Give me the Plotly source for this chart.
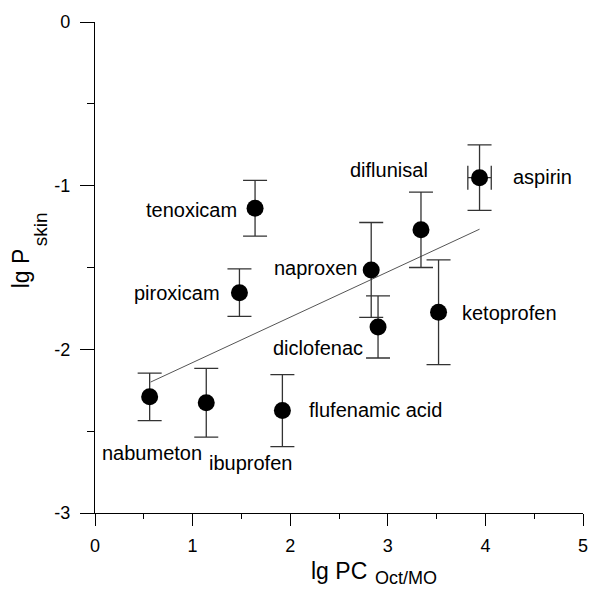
import plotly.graph_objects as go

# ---- data ----
drugs = ["nabumeton", "ibuprofen", "flufenamic acid", "diclofenac", "ketoprofen",
         "naproxen", "diflunisal", "aspirin", "tenoxicam", "piroxicam"]
lg_pc = [0.56, 1.14, 1.92, 2.90, 3.52, 2.83, 3.34, 3.94, 1.64, 1.48]
lg_p = [-2.29, -2.326, -2.374, -1.863, -1.773, -1.515, -1.27, -0.951, -1.138, -1.654]
err_p = [0.145, 0.21, 0.22, 0.19, 0.32, 0.29, 0.23, 0.20, 0.17, 0.145]

aspirin_x = [3.94]
aspirin_y = [-0.951]
aspirin_xerr = [0.12]

fit_x = [0.57, 3.94]
fit_y = [-2.20, -1.266]

# label anchor positions (data coords) and alignment
label_x = [0.586, 1.59, 2.17, 2.28, 3.735, 2.70, 3.01, 4.26, 1.48, 1.30]
label_y = [-2.631, -2.696, -2.37, -1.993, -1.78, -1.503, -0.904, -0.945, -1.146, -1.655]
label_anchor = ["center", "center", "left", "center", "left", "right", "center", "left", "right", "right"]

x_ticks = [0, 1, 2, 3, 4, 5]
y_ticks = [0, -1, -2, -3]

FONT = "Liberation Sans, Arial, Helvetica, sans-serif"

fig = go.Figure()

fig.add_trace(go.Scatter(
    x=fit_x, y=fit_y, mode="lines",
    line=dict(color="#555555", width=1),
    showlegend=False, hoverinfo="skip"))

fig.add_trace(go.Scatter(
    x=aspirin_x, y=aspirin_y, mode="markers",
    marker=dict(size=1, color="rgba(0,0,0,0)"),
    error_x=dict(type="data", array=aspirin_xerr, visible=True,
                 color="#333333", thickness=1.3, width=12),
    showlegend=False, hoverinfo="skip"))

fig.add_trace(go.Scatter(
    x=lg_pc, y=lg_p, mode="markers",
    marker=dict(size=17, color="black"),
    error_y=dict(type="data", array=err_p, visible=True,
                 color="#333333", thickness=1.3, width=12),
    text=drugs, showlegend=False))

for name, lx, ly, anc in zip(drugs, label_x, label_y, label_anchor):
    fig.add_annotation(x=lx, y=ly, text=name, showarrow=False,
                       xanchor=anc, yanchor="middle",
                       font=dict(family=FONT, size=20, color="black"))

# axis titles
fig.add_annotation(xref="paper", yref="paper", x=0.501, y=-0.118, text="lg PC",
                   showarrow=False, xanchor="center", yanchor="middle",
                   font=dict(family=FONT, size=23, color="black"))
fig.add_annotation(xref="paper", yref="paper", x=0.570, y=-0.132, text="Oct/MO",
                   showarrow=False, xanchor="left", yanchor="middle",
                   font=dict(family=FONT, size=18, color="black"))
fig.add_annotation(xref="paper", yref="paper", x=-0.150, y=0.498, text="lg P",
                   showarrow=False, xanchor="center", yanchor="middle", textangle=-90,
                   font=dict(family=FONT, size=23, color="black"))
fig.add_annotation(xref="paper", yref="paper", x=-0.1116, y=0.577, text="skin",
                   showarrow=False, xanchor="center", yanchor="middle", textangle=-90,
                   font=dict(family=FONT, size=19, color="black"))

fig.update_layout(
    width=595, height=592,
    margin=dict(l=95, r=7, t=22, b=79),
    paper_bgcolor="white", plot_bgcolor="white",
    font=dict(family=FONT, color="black"),
    xaxis=dict(range=[0, 5], tickvals=x_ticks, ticktext=[str(v) for v in x_ticks],
               showgrid=False, zeroline=False, showline=True,
               linecolor="black", linewidth=1.2,
               ticks="outside", ticklen=12, tickwidth=1, tickcolor="black",
               minor=dict(dtick=0.5, ticks="outside", ticklen=5, tickcolor="black", showgrid=False),
               tickfont=dict(family=FONT, size=18, color="black"),
               ticklabelstandoff=4),
    yaxis=dict(range=[-3, 0], tickvals=y_ticks, ticktext=[str(v) for v in y_ticks],
               showgrid=False, zeroline=False, showline=True,
               linecolor="black", linewidth=1.2,
               ticks="outside", ticklen=14, tickwidth=1, tickcolor="black",
               minor=dict(dtick=0.5, ticks="outside", ticklen=7, tickcolor="black", showgrid=False),
               tickfont=dict(family=FONT, size=18, color="black"),
               ticklabelstandoff=6),
)

fig.write_html("out.html", post_script="document.body.style.margin='0px';",
               config={"displayModeBar": False})
